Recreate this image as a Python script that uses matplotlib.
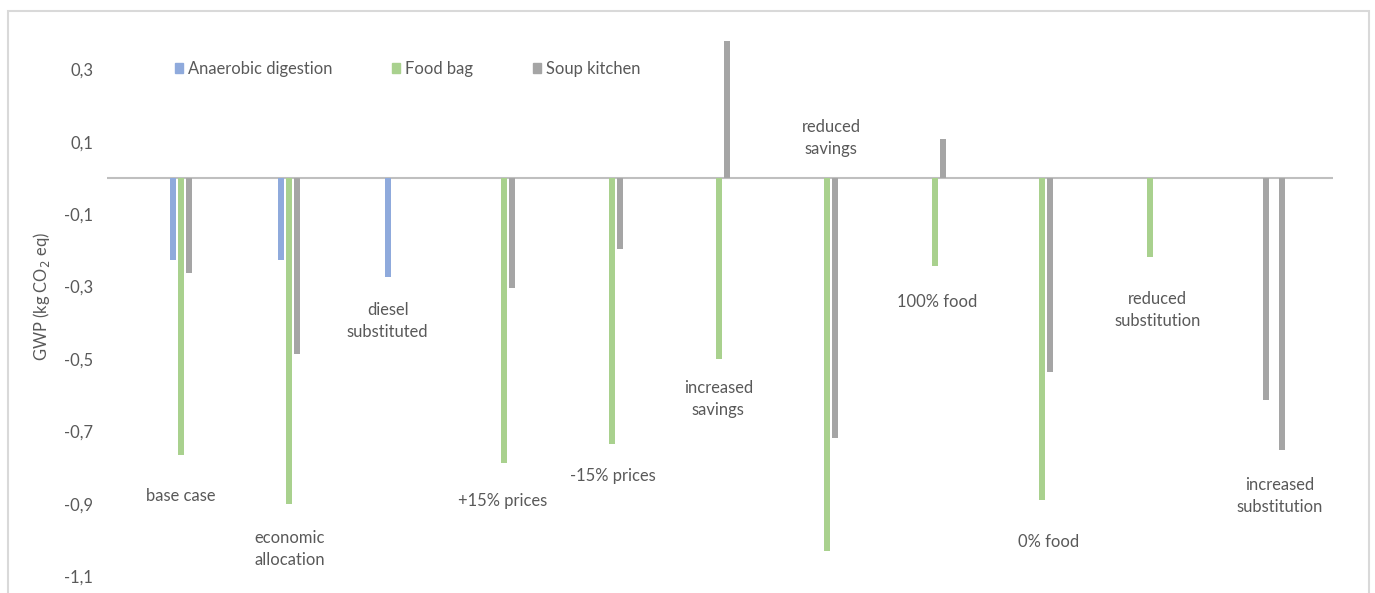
import numpy as np
import matplotlib
matplotlib.use("Agg")
import matplotlib.pyplot as plt
from matplotlib.patches import Patch, Rectangle

plt.rcParams["font.family"] = ["Lato", "DejaVu Sans"]

categories = ["base case", "economic\nallocation", "diesel\nsubstituted", "+15% prices",
              "-15% prices", "increased\nsavings", "reduced\nsavings", "100% food",
              "0% food", "reduced\nsubstitution", "increased\nsubstitution"]
nan = np.nan
anaerobic = [-0.226, -0.226, -0.274, nan, nan, nan, nan, nan, nan, nan, nan]
food_bag = [-0.765, -0.900, nan, -0.788, -0.734, -0.500, -1.030, -0.242, -0.889, -0.219, nan]
soup_kitchen = [-0.262, -0.486, nan, -0.305, -0.197, 0.379, -0.717, 0.108, -0.537, nan, -0.613]
# second grey bar in the last group
soup_extra = [nan, nan, nan, nan, nan, nan, nan, nan, nan, nan, -0.752]

# where the category labels sit (data coords)
label_xy = [(0.0, -0.878), (1.01, -1.025), (1.92, -0.395), (2.99, -0.891), (4.01, -0.822),
            (4.99, -0.610), (6.04, 0.109), (7.02, -0.343), (8.06, -1.005), (9.07, -0.365),
            (10.2, -0.878)]

c_ad = "#8FAADC"
c_fb = "#A9D18E"
c_sk = "#A5A5A5"
txt = "#595959"
fs = 11.9

W, H = 1375, 593
fig = plt.figure(figsize=(W / 100, H / 100), dpi=100)
ax = fig.add_axes([107 / W, 0, (1333 - 107) / W, 560 / H])

x = np.arange(len(categories))
pitch = 8 / 107.7
bw = 6 / 107.7
ax.bar(x - pitch, anaerobic, bw, color=c_ad)
ax.bar(x, food_bag, bw, color=c_fb)
ax.bar(x + pitch, soup_kitchen, bw, color=c_sk)
ax.bar(x + 3 * pitch, soup_extra, bw, color=c_sk)

ax.axhline(0, color="#BFBFBF", lw=1.5, zorder=0)
ax.set_xlim(-0.687, 10.70)
ax.set_ylim(-1.146, 0.4)

for lab, (lx, ly) in zip(categories, label_xy):
    ax.text(lx, ly, lab, ha="center", va="center", fontsize=fs, color=txt,
            linespacing=1.45)

yt = [0.3, 0.1, -0.1, -0.3, -0.5, -0.7, -0.9, -1.1]
ax.set_yticks(yt)
ax.set_yticklabels([f"{v:.1f}".replace(".", ",") for v in yt])
ax.tick_params(axis="y", length=0, pad=10, labelsize=fs, labelcolor=txt)
ax.set_xticks([])
for s in ax.spines.values():
    s.set_visible(False)

fig.text(42 / W, 1 - 297 / H, "GWP (kg CO$_2$ eq)", rotation=90, ha="center",
         va="center", fontsize=fs, color=txt)

handles = [Patch(color=c_ad, label="Anaerobic digestion"),
           Patch(color=c_fb, label="Food bag"),
           Patch(color=c_sk, label="Soup kitchen")]
fig.legend(handles=handles, loc="center left", bbox_to_anchor=(175 / W, 1 - 69 / H),
           ncol=3, frameon=False, fontsize=fs, handlelength=0.5, handleheight=0.5,
           handletextpad=0.3, columnspacing=3.6, borderpad=0, borderaxespad=0,
           labelcolor=txt)

fig.patches.append(Rectangle((8 / W, -0.05), (1369 - 8) / W, 1.05 - 11 / H,
                             transform=fig.transFigure, fill=False,
                             edgecolor="#D9D9D9", lw=1.5))

fig.savefig("out.png", dpi=100)
